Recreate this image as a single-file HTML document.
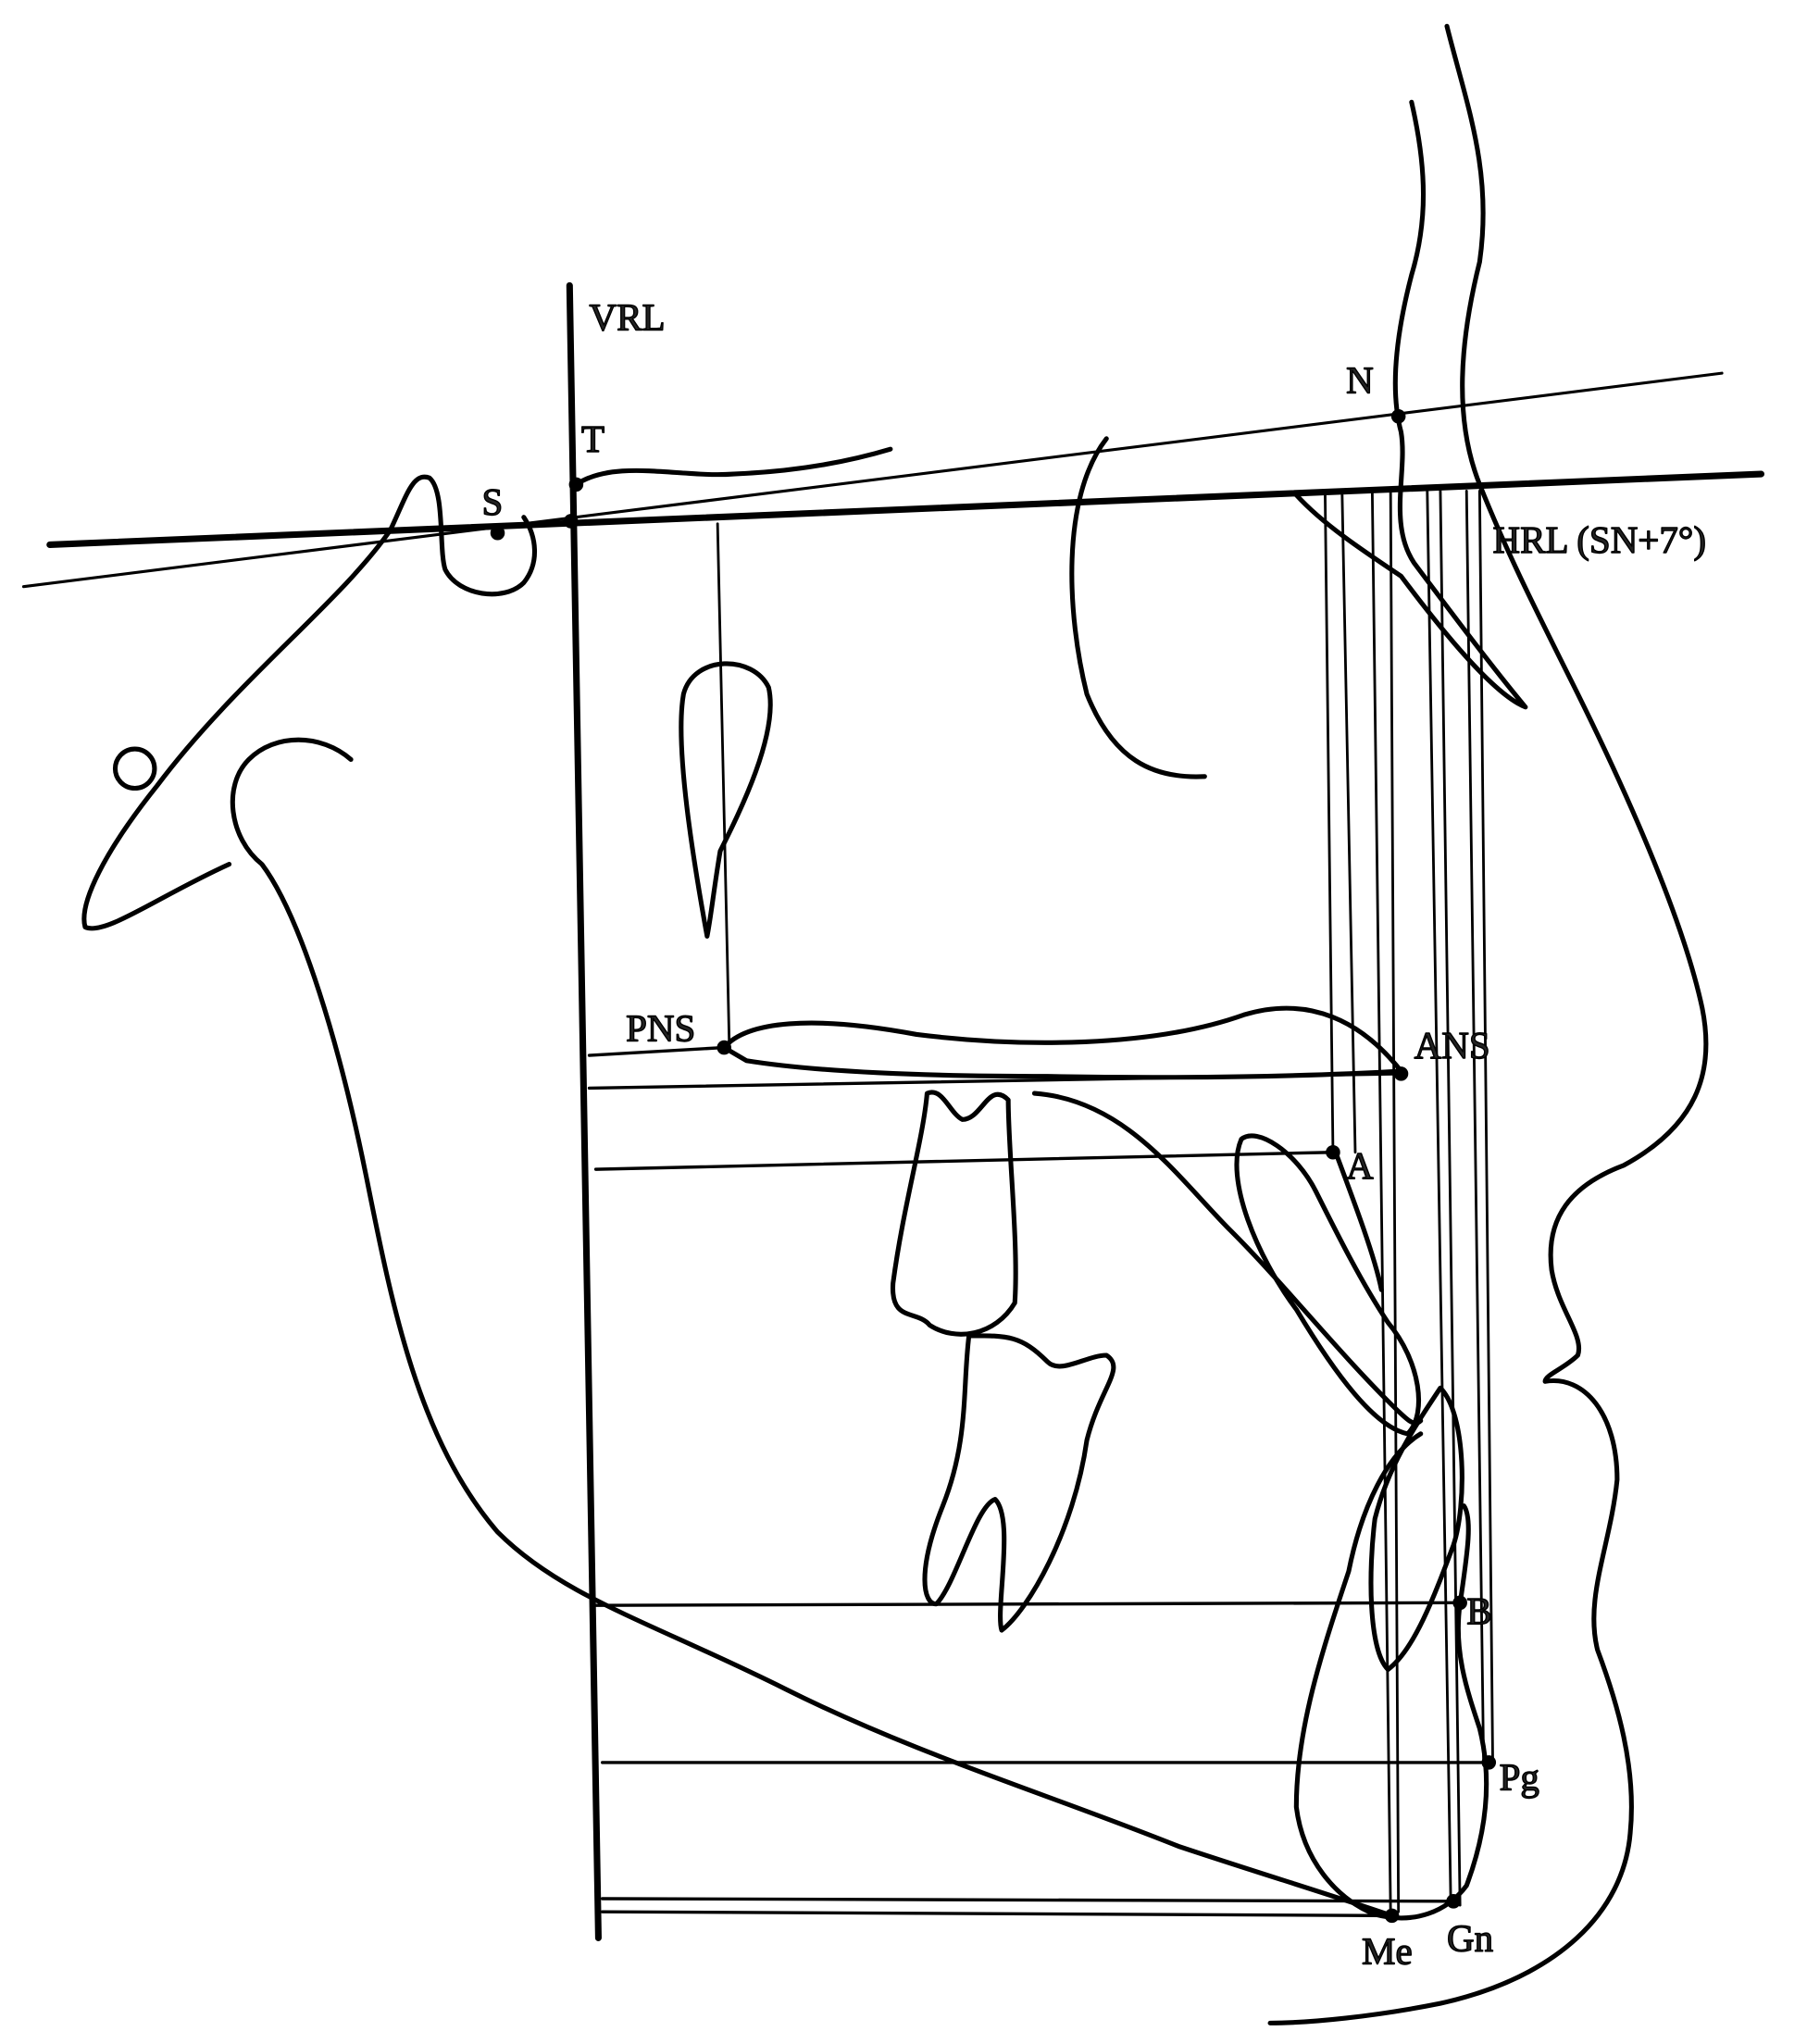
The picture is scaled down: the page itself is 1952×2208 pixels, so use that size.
<!DOCTYPE html>
<html><head><meta charset="utf-8"><style>
html,body{margin:0;padding:0;background:#fff;}
svg{display:block;}
text{font-family:"Liberation Serif",serif;font-size:29px;fill:#222;font-weight:normal;}
</style></head><body>
<svg width="1952" height="2208" viewBox="0 0 1380 1561" xmlns="http://www.w3.org/2000/svg">
<rect width="1380" height="1561" fill="#fff"/>
<g fill="none" stroke="#000" stroke-linecap="round" stroke-linejoin="round">
<line x1="435" y1="218" x2="457" y2="1480" stroke-width="5"/>
<line x1="38" y1="416" x2="1345" y2="362" stroke-width="5"/>
<line x1="18" y1="448" x2="1315" y2="285" stroke-width="2.2"/>
<g stroke-width="2">
<line x1="548" y1="400" x2="557" y2="800"/>
<line x1="1012" y1="378" x2="1018" y2="880"/>
<line x1="1025" y1="378" x2="1035" y2="880"/>
<line x1="1048" y1="376" x2="1062" y2="1460"/>
<line x1="1062" y1="376" x2="1068" y2="1460"/>
<line x1="1090" y1="375" x2="1108" y2="1455"/>
<line x1="1100" y1="375" x2="1115" y2="1455"/>
<line x1="1130" y1="375" x2="1140" y2="1345"/>
<line x1="1120" y1="375" x2="1133" y2="1345"/>
</g>
<g stroke-width="2.4">
<line x1="450" y1="806" x2="553" y2="800"/>
<line x1="450" y1="831" x2="1070" y2="820"/>
<line x1="455" y1="893" x2="1018" y2="880"/>
<line x1="455" y1="1226" x2="1115" y2="1224"/>
<line x1="460" y1="1346" x2="1137" y2="1346"/>
<line x1="460" y1="1450" x2="1110" y2="1452"/>
<line x1="460" y1="1460" x2="1063" y2="1463"/>
</g>
<g stroke-width="3.6">
<path d="M440 370 C470 350 520 365 560 362 C610 360 650 352 680 343"/>
<path d="M298 405 C310 380 315 360 328 365 C340 375 335 420 340 435 C350 455 385 460 400 445 C412 430 410 410 400 395"/>
<path d="M298 405 C260 460 180 520 120 600 C80 650 60 690 65 708 C80 715 120 685 175 660"/>
<circle cx="103" cy="587" r="15"/>
<path d="M268 580 C245 560 210 560 190 580 C170 600 175 640 200 660 C230 700 260 800 280 900 C300 1000 320 1100 380 1170 C430 1220 500 1240 600 1290 C700 1340 800 1370 900 1410 C960 1430 1010 1445 1060 1462"/>
<path d="M845 335 C810 380 815 470 830 530 C850 580 880 595 920 593"/>
<path d="M540 715 C530 660 515 570 522 530 C530 500 575 500 587 525 C595 560 565 620 550 650 C545 680 543 700 540 715"/>
<path d="M553 800 C570 780 620 775 700 790 C780 800 880 800 950 775 C1000 760 1040 780 1070 818 C1000 822 900 824 800 822 C700 822 620 818 570 810 Z"/>
<path d="M708 835 C705 870 690 920 682 980 C680 1010 700 1000 710 1012 C730 1025 760 1020 775 995 C778 950 770 880 770 840 C755 825 750 855 735 855 C725 850 720 830 708 835 Z"/>
<path d="M740 1020 C735 1060 740 1100 720 1150 C700 1200 705 1225 715 1225 C730 1210 745 1150 760 1145 C775 1160 760 1230 765 1245 C785 1230 820 1170 830 1100 C840 1060 860 1045 845 1035 C830 1035 810 1050 800 1040 C780 1020 770 1020 740 1020 Z"/>
<path d="M790 835 C860 840 900 900 940 940 C980 980 1020 1030 1060 1070 C1075 1085 1080 1090 1085 1085"/>
<path d="M948 870 C935 900 960 960 990 1000 C1020 1050 1050 1090 1075 1095 C1090 1080 1085 1040 1060 1010 C1040 980 1020 940 1005 910 C990 880 960 860 948 870 Z"/>
<path d="M1020 880 C1035 920 1050 960 1055 985"/>
<path d="M1100 1060 C1120 1080 1120 1150 1110 1180 C1095 1220 1080 1260 1060 1275 C1045 1260 1045 1200 1050 1160 C1060 1120 1080 1090 1100 1060 Z"/>
<path d="M1085 1095 C1060 1110 1040 1150 1030 1200 C1010 1260 990 1320 990 1380 C995 1420 1020 1450 1050 1462 C1080 1470 1105 1460 1120 1440 C1135 1400 1140 1360 1130 1320 C1120 1290 1110 1260 1115 1225 C1120 1190 1125 1160 1118 1150"/>
<path d="M1078 78 C1090 130 1090 170 1078 210 C1065 260 1062 300 1070 330 C1075 360 1060 400 1080 430 C1110 470 1140 510 1165 540 C1140 530 1100 480 1070 440 C1040 420 1010 400 990 378"/>
<path d="M1105 20 C1120 80 1140 130 1130 200 C1115 260 1110 320 1130 370 C1150 420 1170 460 1200 520 C1240 600 1285 700 1300 770 C1310 820 1295 860 1240 890 C1200 905 1180 930 1185 970 C1190 1000 1210 1020 1205 1035 C1195 1045 1180 1050 1180 1055 C1210 1050 1235 1080 1235 1130 C1230 1180 1210 1220 1220 1260 C1235 1300 1250 1350 1245 1400 C1240 1460 1190 1510 1100 1530 C1050 1540 1000 1545 970 1545"/>
</g>
<g fill="#000">
<circle cx="1068" cy="318" r="5"/>
<circle cx="440" cy="370" r="5"/>
<circle cx="380" cy="407" r="5"/>
<circle cx="436" cy="398" r="5"/>
<circle cx="553" cy="800" r="5"/>
<circle cx="1070" cy="820" r="5"/>
<circle cx="1018" cy="880" r="5"/>
<circle cx="1115" cy="1224" r="5"/>
<circle cx="1137" cy="1346" r="5"/>
<circle cx="1063" cy="1463" r="5"/>
<circle cx="1110" cy="1452" r="5"/>
</g>
<text x="450" y="252">VRL</text>
<text x="1028" y="300">N</text>
<text x="444" y="345">T</text>
<text x="368" y="393">S</text>
<text x="1140" y="422">HRL (SN+7°)</text>
<text x="478" y="795">PNS</text>
<text x="1080" y="808">ANS</text>
<text x="1028" y="900">A</text>
<text x="1120" y="1240">B</text>
<text x="1145" y="1367">Pg</text>
<text x="1040" y="1500">Me</text>
<text x="1105" y="1490">Gn</text>
</svg>
</body></html>
